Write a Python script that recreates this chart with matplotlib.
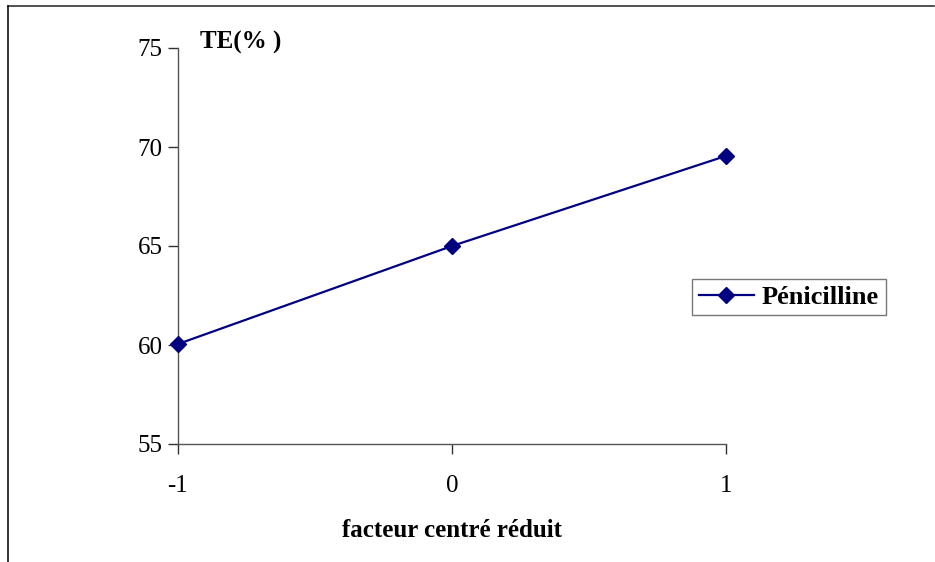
import matplotlib
matplotlib.use("Agg")
import matplotlib.pyplot as plt
from matplotlib.lines import Line2D

x_vals = [-1, 0, 1]
te_vals = [60.05, 65.0, 69.55]
series_name = "Pénicilline"
x_ticks = [-1, 0, 1]
y_ticks = [55, 60, 65, 70, 75]
x_label = "facteur centré réduit"
y_label = "TE(% )"

plt.rcParams['font.family'] = ['Liberation Serif', 'DejaVu Serif']

fig = plt.figure(figsize=(9.35, 5.62), dpi=100)
# outer border (top and left visible)
fig.add_artist(Line2D([8/935, 934/935], [1-6/562, 1-6/562], color='#333333', lw=1.2))
fig.add_artist(Line2D([8/935, 8/935], [1-6/562, 0], color='#111111', lw=1.2))

ax = fig.add_axes([178/935, 1-444/562, (726-178)/935, (444-48)/562])
ax.plot(x_vals, te_vals, color='#000080', lw=1.6, marker='D', markersize=8,
        label=series_name, clip_on=False, zorder=5)
ax.set_xlim(-1, 1)
ax.set_ylim(55, 75)
ax.set_xticks(x_ticks)
ax.set_xticklabels([str(v) for v in x_ticks])
ax.set_yticks(y_ticks)
for s in ['top', 'right']:
    ax.spines[s].set_visible(False)
for s in ['left', 'bottom']:
    ax.spines[s].set_color('#555555')
    ax.spines[s].set_linewidth(1.0)
ax.tick_params(axis='both', direction='out', length=7, width=1.0,
               color='#333333', labelsize=18)
ax.tick_params(axis='x', pad=15)
ax.tick_params(axis='y', pad=4)
ax.set_xlabel(x_label, fontsize=18, fontweight='bold', labelpad=16)
fig.text(200/935, 1-42/562, y_label, fontsize=18, fontweight='bold',
         ha='left', va='center')
leg = ax.legend(loc='center left', bbox_to_anchor=(692/935, 1-297/562),
                bbox_transform=fig.transFigure, frameon=True, fancybox=False,
                prop={'weight': 'bold', 'size': 19}, handlelength=2.1,
                borderpad=0.25, handletextpad=0.3, borderaxespad=0)
leg.get_frame().set_edgecolor('#555555')
leg.get_frame().set_linewidth(1.0)

fig.savefig("out.png", dpi=100)
